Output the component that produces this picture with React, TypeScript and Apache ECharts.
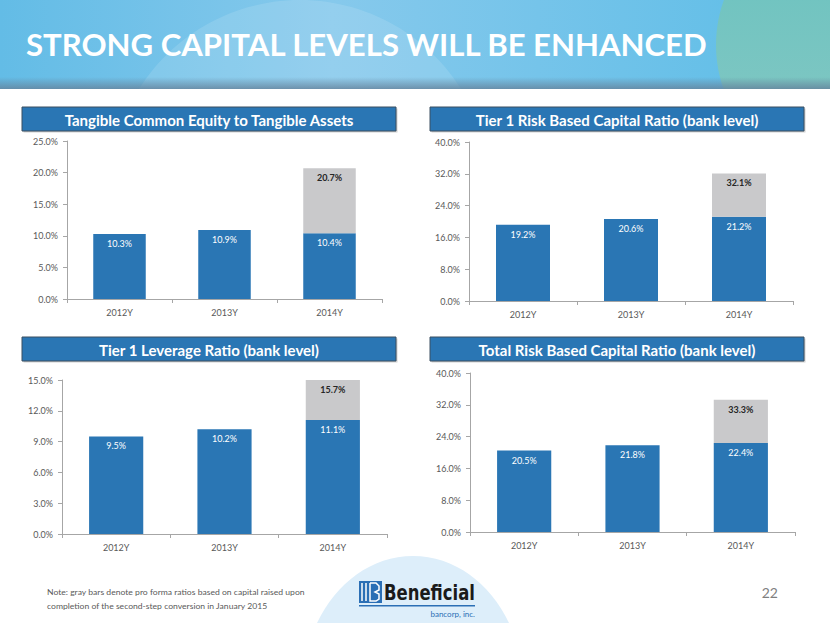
import React, { useEffect, useRef } from "react";
import * as echarts from "echarts";

// ---------- data ----------
const categories = ["2012Y", "2013Y", "2014Y"];

const panelTitles = [
  "Tangible Common Equity to Tangible Assets",
  "Tier 1 Risk Based Capital Ratio (bank level)",
  "Tier 1 Leverage Ratio (bank level)",
  "Total Risk Based Capital Ratio (bank level)",
];

const tceActual = [10.3, 10.9, 10.4];
const tceProForma = [null, null, 20.7];
const t1rbcActual = [19.2, 20.6, 21.2];
const t1rbcProForma = [null, null, 32.1];
const leverageActual = [9.5, 10.2, 11.1];
const leverageProForma = [null, null, 15.7];
const trbcActual = [20.5, 21.8, 22.4];
const trbcProForma = [null, null, 33.3];

const yMax = [25, 40, 15, 40];
const yInterval = [5, 8, 3, 8];

const noteLines = [
  "Note: gray bars denote pro forma ratios based on capital raised upon",
  "completion of the second-step conversion in January 2015",
];
const slideTitle = "STRONG CAPITAL LEVELS WILL BE ENHANCED";
const pageNumber = "22";

// ---------- layout ----------
const grids = [
  { left: 67, top: 141, width: 315, height: 158 },
  { left: 469, top: 142, width: 324, height: 159 },
  { left: 62, top: 380, width: 325, height: 154 },
  { left: 470, top: 373, width: 325, height: 159 },
];
const titleBars = [
  { x: 22, y: 107, w: 374, h: 24 },
  { x: 430, y: 107, w: 374, h: 24 },
  { x: 22, y: 337, w: 374, h: 24 },
  { x: 430, y: 337, w: 374, h: 24 },
];

const BLUE = "#2A76B4";
const GRAY = "#C9C9CB";
const AXIS = "#A6A6A6";
const LABEL = "#595959";
const FONT = "Lato, 'Open Sans', sans-serif";
const HEADER_H = 89;

function measure(text: string, font: string): number {
  const c = document.createElement("canvas").getContext("2d");
  if (!c) return text.length * 7;
  c.font = font;
  return c.measureText(text).width;
}

function clippedCircle(cx: number, cy: number, r: number, maxY: number): number[][] {
  const pts: number[][] = [];
  for (let k = 0; k < 180; k++) {
    const a = (k / 180) * Math.PI * 2;
    const x = cx + r * Math.cos(a);
    const y = Math.min(maxY, cy + r * Math.sin(a));
    pts.push([x, y]);
  }
  return pts;
}

export default function App() {
  const ref = useRef<HTMLDivElement>(null);

  useEffect(() => {
    if (!ref.current) return;
    const chart = echarts.init(ref.current, undefined, { renderer: "svg" });

    const actuals = [tceActual, t1rbcActual, leverageActual, trbcActual];
    const proFormas = [tceProForma, t1rbcProForma, leverageProForma, trbcProForma];

    const series: any[] = [];
    actuals.forEach((act, i) => {
      const pf = proFormas[i];
      series.push({
        type: "bar",
        name: "actual" + i,
        xAxisIndex: i,
        yAxisIndex: i,
        stack: "s" + i,
        barWidth: "50%",
        data: act,
        itemStyle: { color: BLUE },
        label: {
          show: true,
          position: "insideTop",
          distance: 5,
          color: "#FFFFFF",
          fontFamily: FONT,
          fontSize: 9,
          formatter: (p: any) => act[p.dataIndex].toFixed(1) + "%",
        },
      });
      series.push({
        type: "bar",
        name: "proforma" + i,
        xAxisIndex: i,
        yAxisIndex: i,
        stack: "s" + i,
        barWidth: "50%",
        data: pf.map((v, k) => (v == null ? null : +(v - act[k]).toFixed(1))),
        itemStyle: { color: GRAY },
        label: {
          show: true,
          position: "insideTop",
          distance: 5,
          color: "#262626",
          fontWeight: "bold",
          fontFamily: FONT,
          fontSize: 9,
          formatter: (p: any) => {
            const v = pf[p.dataIndex];
            return v == null ? "" : v.toFixed(1) + "%";
          },
        },
      });
    });

    const titleFont = `bold 31px ${FONT}`;
    const titleScale = 683 / measure(slideTitle, titleFont);
    const noteFont = `8px ${FONT}`;
    const noteScale = 258 / measure(noteLines[0], noteFont);
    const logoFont = `bold 22px 'Liberation Sans Narrow', 'DejaVu Sans Condensed', ${FONT}`;

    const graphic: any[] = [
      // header background
      {
        type: "rect",
        shape: { x: 0, y: 0, width: 830, height: HEADER_H },
        style: {
          fill: new echarts.graphic.LinearGradient(0, 0, 1, 0, [
            { offset: 0, color: "#63BCE6" },
            { offset: 0.4, color: "#86C9EC" },
            { offset: 1, color: "#5DBDE7" },
          ]),
        },
        z: 0,
      },
      {
        type: "polygon",
        shape: { points: clippedCircle(300, 190, 190, HEADER_H) },
        style: { fill: "rgba(255,255,255,0.12)" },
        z: 0,
      },
      {
        type: "polygon",
        shape: { points: clippedCircle(848, 45, 132, HEADER_H) },
        style: {
          fill: new echarts.graphic.LinearGradient(0, 0, 0, 1, [
            { offset: 0, color: "#68C2BF" },
            { offset: 1, color: "#7CC6C2" },
          ]),
        },
        z: 0,
      },
      {
        type: "rect",
        shape: { x: 0, y: 77, width: 830, height: HEADER_H - 77 },
        style: {
          fill: new echarts.graphic.LinearGradient(0, 0, 0, 1, [
            { offset: 0, color: "rgba(100,130,155,0)" },
            { offset: 1, color: "rgba(100,130,155,0.8)" },
          ]),
        },
        z: 0,
      },
      {
        type: "text",
        x: 26,
        y: 44,
        scaleX: titleScale,
        style: {
          text: slideTitle,
          fill: "#FFFFFF",
          font: titleFont,
          verticalAlign: "middle",
          align: "left",
        },
        z: 1,
      },
      // logo ellipse
      {
        type: "ellipse",
        shape: { cx: 413, cy: 687, rx: 110, ry: 131 },
        style: { fill: "#DDEEFA" },
        z: 0,
      },
      // logo icon
      {
        type: "rect",
        shape: { x: 359, y: 581, width: 23, height: 22 },
        style: { fill: "#2B6FB5" },
        z: 1,
      },
      {
        type: "polyline",
        shape: { points: [[362, 583], [362, 601]] },
        style: { stroke: "#FFFFFF", lineWidth: 1.5 },
        z: 2,
      },
      {
        type: "polyline",
        shape: { points: [[366, 583], [366, 601]] },
        style: { stroke: "#FFFFFF", lineWidth: 1.5 },
        z: 2,
      },
      {
        type: "polyline",
        shape: {
          points: [[370, 583], [376, 583], [379, 586], [379, 590], [375, 592], [379, 594], [379, 599], [376, 601], [370, 601], [370, 583]],
        },
        style: { stroke: "#FFFFFF", lineWidth: 1.5, fill: "none" },
        z: 2,
      },
      {
        type: "text",
        x: 384,
        y: 592,
        style: {
          text: "Beneficial",
          fill: "#1A1A1A",
          font: logoFont,
          verticalAlign: "middle",
          align: "left",
        },
        scaleX: 91 / measure("Beneficial", logoFont),
        z: 1,
      },
      {
        type: "rect",
        shape: { x: 359, y: 605, width: 116, height: 1.5 },
        style: { fill: "#2B6FB5" },
        z: 1,
      },
      {
        type: "text",
        x: 475,
        y: 614,
        style: {
          text: "bancorp, inc.",
          fill: "#2B6FB5",
          font: `8px ${FONT}`,
          verticalAlign: "middle",
          align: "right",
        },
        z: 1,
      },
      // note
      ...noteLines.map((t, i) => ({
        type: "text",
        x: 47,
        y: 592 + i * 14,
        scaleX: noteScale,
        style: {
          text: t,
          fill: "#595959",
          font: noteFont,
          verticalAlign: "middle",
          align: "left",
        },
        z: 1,
      })),
      {
        type: "text",
        x: 778,
        y: 592,
        style: {
          text: pageNumber,
          fill: "#7F7F7F",
          font: `14px ${FONT}`,
          verticalAlign: "middle",
          align: "right",
        },
        z: 1,
      },
    ];

    titleBars.forEach((b, i) => {
      graphic.push({
        type: "rect",
        shape: { x: b.x + 1.5, y: b.y + 1.5, width: b.w, height: b.h },
        style: { fill: "rgba(0,0,0,0.18)" },
        z: 1,
      });
      graphic.push({
        type: "rect",
        shape: { x: b.x, y: b.y, width: b.w, height: b.h },
        style: { fill: BLUE, stroke: "#3A4E60", lineWidth: 1 },
        z: 2,
      });
      graphic.push({
        type: "text",
        x: b.x + b.w / 2,
        y: b.y + b.h / 2 + 0.5,
        style: {
          text: panelTitles[i],
          fill: "#FFFFFF",
          font: `bold 15px ${FONT}`,
          align: "center",
          verticalAlign: "middle",
        },
        z: 3,
      });
    });

    const option: any = {
      animation: false,
      backgroundColor: "#FFFFFF",
      grid: grids.map((g) => ({ ...g, containLabel: false })),
      xAxis: grids.map((_, i) => ({
        type: "category",
        gridIndex: i,
        data: categories,
        axisLine: { lineStyle: { color: AXIS } },
        axisTick: { show: true, length: 4, lineStyle: { color: AXIS } },
        axisLabel: { color: LABEL, fontFamily: FONT, fontSize: 9, margin: 9 },
      })),
      yAxis: grids.map((_, i) => ({
        type: "value",
        gridIndex: i,
        min: 0,
        max: yMax[i],
        interval: yInterval[i],
        axisLine: { show: true, lineStyle: { color: AXIS } },
        axisTick: { show: true, length: 4, lineStyle: { color: AXIS } },
        splitLine: { show: false },
        axisLabel: {
          color: LABEL,
          fontFamily: FONT,
          fontSize: 9,
          margin: 9,
          formatter: (v: number) => v.toFixed(1) + "%",
        },
      })),
      series,
      graphic,
    };

    chart.setOption(option);
    return () => chart.dispose();
  }, []);

  return (
    <div
      ref={ref}
      style={{ position: "fixed", left: 0, top: 0, width: 830, height: 623 }}
    />
  );
}
